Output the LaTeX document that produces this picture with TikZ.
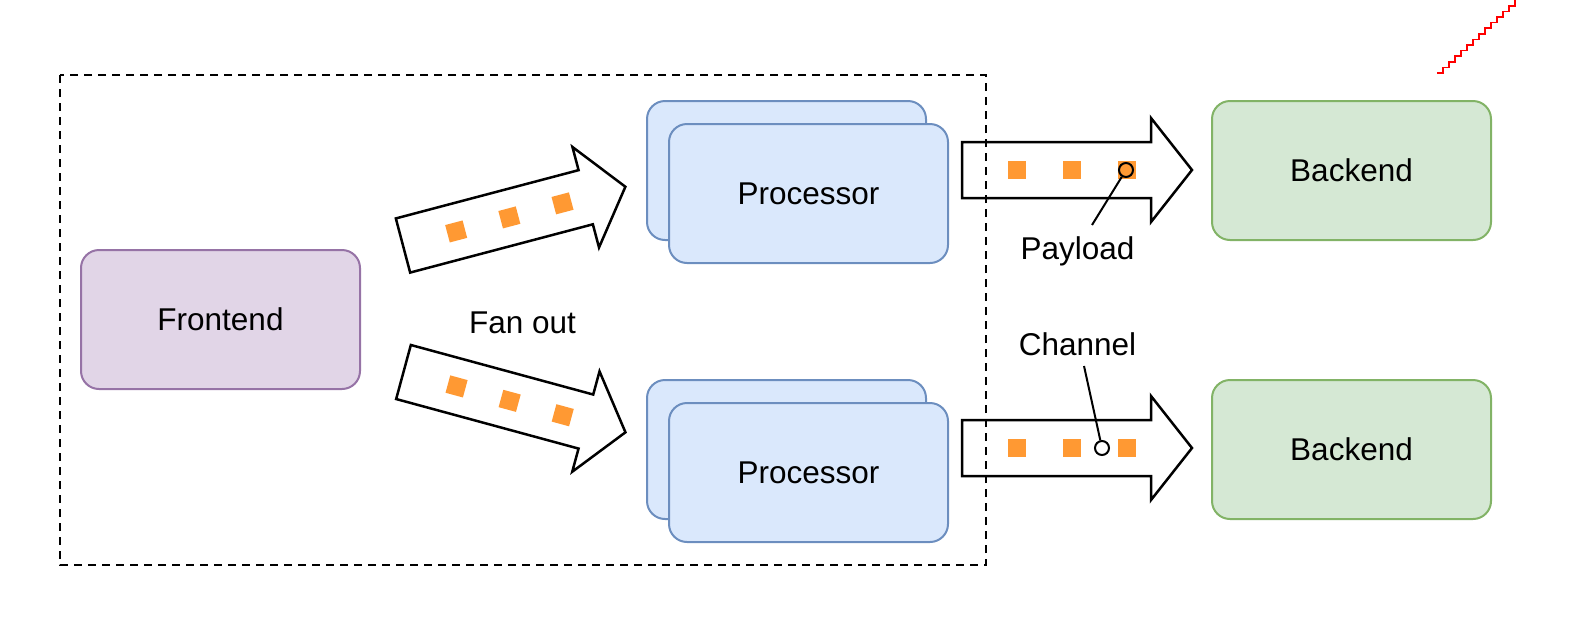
\documentclass[tikz,border=0pt]{standalone}
\usepackage{fontspec}
\setmainfont{Liberation Sans}
\definecolor{procfill}{HTML}{DAE8FC}
\definecolor{procline}{HTML}{6C8EBF}
\definecolor{endfill}{HTML}{D5E8D4}
\definecolor{endline}{HTML}{82B366}
\definecolor{frontfill}{HTML}{E1D5E7}
\definecolor{frontline}{HTML}{9673A6}
\definecolor{pktorange}{HTML}{FF9933}
\tikzset{
  lbl/.style={font=\fontsize{31.5}{38}\selectfont, inner sep=0pt},
  box/.style={lbl, draw, line width=2pt, rounded corners=18pt, minimum width=279pt, minimum height=139pt, anchor=north west},
  proc/.style={box, fill=procfill, draw=procline},
  backend/.style={box, fill=endfill, draw=endline},
  frontend/.style={box, fill=frontfill, draw=frontline},
  blockarrow/.style={draw=black, fill=white, line width=2.5pt, line join=miter},
  pkt/.style={fill=pktorange, draw=none, minimum size=18pt, inner sep=0pt},
  marker/.style={circle, draw=black, line width=2pt, minimum size=14pt, inner sep=0pt},
  leader/.style={draw=black, line width=2pt},
  group/.style={draw=black, line width=2pt, dash pattern=on 8pt off 6pt},
  pics/flow/.style={code={
    \draw[blockarrow] (0,-28) -- (189,-28) -- (189,-52) -- (230,0) -- (189,52) -- (189,28) -- (0,28) -- cycle;
    \node[pkt, transform shape] (-p1) at (55,0) {};
    \node[pkt, transform shape] (-p2) at (110,0) {};
    \node[pkt, transform shape] (-p3) at (165,0) {};
  }}
}
\begin{document}
\begin{tikzpicture}[x=1pt, y=-1pt]
  \useasboundingbox (0,0) rectangle (1576,638);
  % watermark staircase
  \draw[red, line width=1.5pt] (1437,73)
    \foreach \i in {1,...,13} { -- ++(6,0) -- ++(0,-5.6) };
  % boxes
  \node[frontend] (front) at (80,249) {Frontend};
  \node[proc] (p1back) at (646,100) {};
  \node[proc] (p1) at (668,123) {Processor};
  \node[proc] (p2back) at (646,379) {};
  \node[proc] (p2) at (668,402) {Processor};
  \node[backend] (b1) at (1211,100) {Backend};
  \node[backend] (b2) at (1211,379) {Backend};
  % arrows
  \pic[rotate=14.8] (fa1) at (403,245.5) {flow};
  \pic[rotate=-15.2] (fa2) at (403.5,372) {flow};
  \pic (ra1) at (962,170) {flow};
  \pic (ra2) at (962,448) {flow};
  % labels
  \node[lbl] (fan) at (522.5,323) {Fan out};
  \node[lbl] (pay) at (1077.5,251) {Payload};
  \node[lbl] (chan) at (1077.5,344) {Channel};
  \node[marker] (m1) at (1126,170) {};
  \node[marker] (m2) at (1102,448) {};
  \coordinate (pe) at (1092,225);
  \coordinate (ce) at (1084,366);
  \draw[leader] (m1) -- (pe);
  \draw[leader] (m2) -- (ce);
  % group
  \draw[group] (60,75) rectangle (986,565);
\end{tikzpicture}
\end{document}
